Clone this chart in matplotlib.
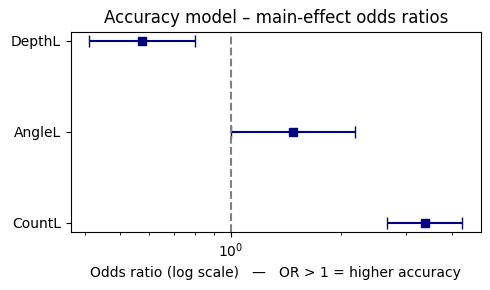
import matplotlib
matplotlib.use("Agg")
import matplotlib.pyplot as plt
import numpy as np

terms = ["DepthL", "AngleL", "CountL"]
odds_ratio = [0.574, 1.477, 3.378]
ci_low = [0.412, 1.002, 2.662]
ci_high = [0.800, 2.183, 4.27]

fig = plt.figure(figsize=(4.9, 2.9), dpi=100)
ax = fig.add_axes([0.1443, 0.201, 0.8367, 0.6897])
y = np.arange(len(terms))[::-1]
or_ = np.array(odds_ratio)
err = np.vstack([or_ - np.array(ci_low), np.array(ci_high) - or_])
ax.errorbar(or_, y, xerr=err, fmt='s', color='navy', ecolor='navy', capsize=4)
ax.axvline(1, color='grey', linestyle='--')
ax.set_xscale('log')
ax.set_yticks(y)
ax.set_yticklabels(terms)
ax.set_xlabel("Odds ratio (log scale)   —   OR > 1 = higher accuracy")
ax.set_title("Accuracy model – main-effect odds ratios")
fig.savefig("out.png", dpi=100)
